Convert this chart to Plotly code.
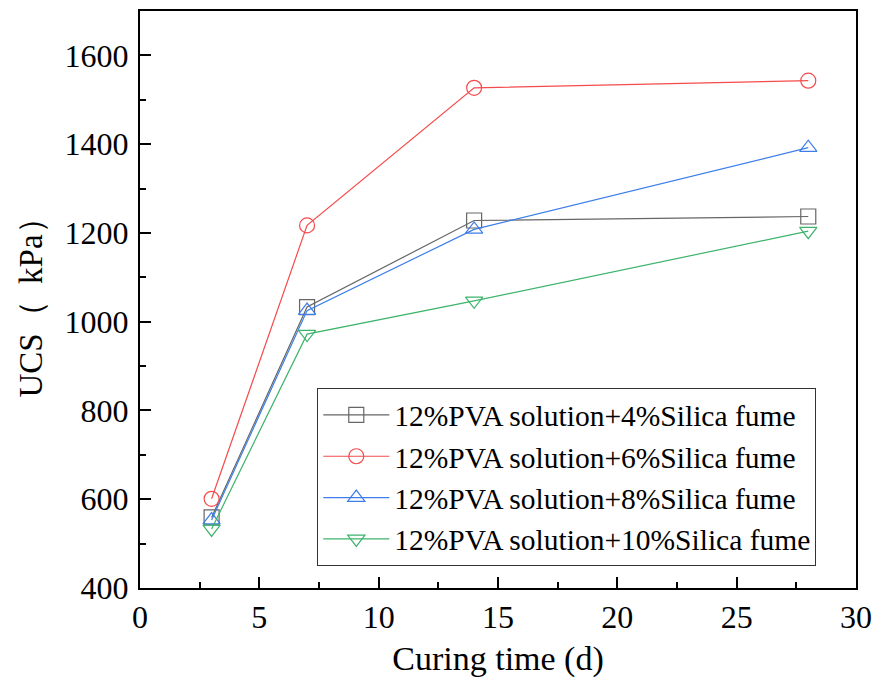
import plotly.graph_objects as go

days = [3, 7, 14, 28]
sf4 = [559, 1033, 1228, 1237]
sf6 = [601, 1217, 1527, 1543]
sf8 = [553, 1025, 1208, 1392]
sf10 = [533, 972, 1047, 1204]

names = ["12%PVA solution+4%Silica fume", "12%PVA solution+6%Silica fume",
         "12%PVA solution+8%Silica fume", "12%PVA solution+10%Silica fume"]
series = [sf4, sf6, sf8, sf10]
colors = ["#666666", "#F54B4B", "#3D7EEB", "#3DB36B"]
symbols = ["square-open", "circle-open", "triangle-up-open", "triangle-down-open"]

fig = go.Figure()
for n, s, c, sym in zip(names, series, colors, symbols):
    fig.add_trace(go.Scatter(
        x=days, y=s, name=n, mode="lines+markers",
        line=dict(color=c, width=1.2),
        marker=dict(symbol=sym, size=15, color=c, line=dict(color=c, width=1.2)),
    ))

font = "Liberation Serif"
fig.update_layout(
    width=881, height=695,
    margin=dict(l=140, r=22, t=9, b=107),
    paper_bgcolor="white", plot_bgcolor="white",
    font=dict(family=font, color="black"),
    showlegend=True,
    legend=dict(
        x=0.2476, y=0.192, xanchor="left", yanchor="middle",
        bgcolor="white", bordercolor="#333333", borderwidth=1,
        font=dict(size=29.5, family=font), itemwidth=66,
        tracegroupgap=0,
    ),
)
fig.update_xaxes(
    range=[0, 30], dtick=5, tick0=0,
    showline=True, linewidth=2, linecolor="black", mirror=True,
    ticks="inside", ticklen=11, tickwidth=2, tickcolor="black",
    minor=dict(dtick=2.5, ticks="inside", ticklen=6, tickwidth=2, tickcolor="black"),
    showgrid=False, zeroline=False,
    tickfont=dict(size=32, family=font),
    title=dict(text="Curing time (d)", font=dict(size=34, family=font), standoff=12),
)
fig.update_yaxes(
    range=[400, 1700], tickvals=[400, 600, 800, 1000, 1200, 1400, 1600],
    showline=True, linewidth=2, linecolor="black", mirror=True,
    ticks="inside", ticklen=11, tickwidth=2, tickcolor="black",
    minor=dict(dtick=100, tick0=0, ticks="inside", ticklen=6, tickwidth=2, tickcolor="black"),
    showgrid=False, zeroline=False, ticklabelstandoff=3,
    tickfont=dict(size=32, family=font),
    title=dict(text="UCS（  kPa）", font=dict(size=33, family=font), standoff=12),
)

fig.write_html("out.html")
